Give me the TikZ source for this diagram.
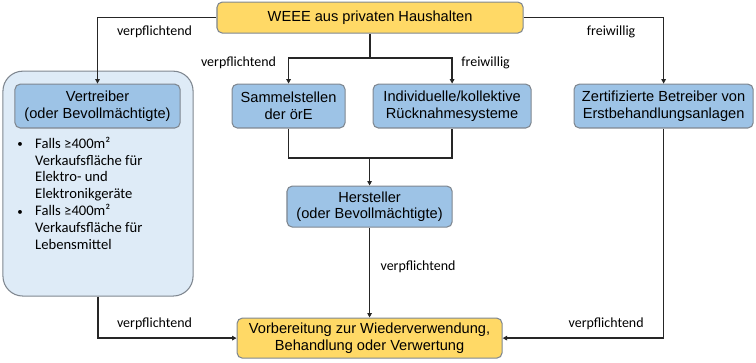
\documentclass[tikz,border=0pt]{standalone}
\usepackage{fontspec}
\setmainfont{Liberation Sans}
\newfontfamily\carlito{Carlito}
\usetikzlibrary{arrows.meta}
\definecolor{weeeyel}{HTML}{FFD966}
\definecolor{actblue}{HTML}{9DC3E6}
\definecolor{panelblue}{HTML}{DEEBF7}
\definecolor{boxedge}{HTML}{7F8790}
\definecolor{linegray}{HTML}{262626}
\newcommand{\bulmark}{\makebox[13.5pt][l]{\raisebox{0.5pt}{\scalebox{0.75}{•}}}}
\newcommand{\bulgap}{\hspace*{13.5pt}}

\begin{document}
\begin{tikzpicture}[
  >={Triangle[length=3.4pt,width=3.4pt]},
  ybox/.style={rounded corners=4pt, draw=boxedge, line width=0.8pt, fill=weeeyel, align=center, inner sep=0pt, font=\fontsize{11}{12.5}\selectfont},
  bbox/.style={rounded corners=4pt, draw=boxedge, line width=0.8pt, fill=actblue, align=center, inner sep=0pt, font=\fontsize{11}{12.5}\selectfont},
  panel/.style={rounded corners=15pt, draw=boxedge, line width=0.8pt, fill=panelblue, inner sep=0pt},
  lbl/.style={font=\carlito\fontsize{10.5}{12}\selectfont, inner sep=0pt},
  bul/.style={font=\carlito\fontsize{11}{12.75}\selectfont, align=left, inner sep=0pt},
  flow/.style={->, line width=1pt, color=linegray},
  flowline/.style={line width=1pt, color=linegray},
]
\useasboundingbox (0,0) rectangle (20.0,9.58);

% boxes
\node[ybox, minimum width=8.10cm, minimum height=0.82cm] (weee) at (9.79,9.115) {WEEE aus privaten Haushalten};
\node[panel, minimum width=5.03cm, minimum height=5.95cm] (vpanel) at (2.593,4.723) {};
\node[bbox, minimum width=4.37cm, minimum height=1.16cm] (vertr) at (2.58,6.774) {Vertreiber\\(oder Bevollmächtigte)};
\node[bbox, minimum width=2.99cm, minimum height=1.16cm] (sammel) at (7.634,6.774) {Sammelstellen\\der örE};
\node[bbox, minimum width=4.18cm, minimum height=1.16cm] (indiv) at (11.96,6.774) {Individuelle/kollektive\\Rücknahmesysteme};
\node[bbox, minimum width=4.74cm, minimum height=1.16cm] (zert) at (17.556,6.774) {Zertifizierte Betreiber von\\Erstbehandlungsanlagen};
\node[bbox, minimum width=4.37cm, minimum height=1.085cm] (herst) at (9.777,4.115) {Hersteller\\(oder Bevollmächtigte)};
\node[ybox, minimum width=7.01cm, minimum height=1.06cm] (vorb) at (9.777,0.635) {Vorbereitung zur Wiederverwendung,\\Behandlung oder Verwertung};

\node[bul, anchor=north west] (crit) at (0.45,5.967) {\bulmark Falls ≥400m²\\\bulgap Verkaufsfläche für\\\bulgap Elektro- und\\\bulgap Elektronikgeräte\\\bulmark Falls ≥400m²\\\bulgap Verkaufsfläche für\\\bulgap Lebensmittel};

% connectors
\draw[flow] (weee.west) -| (vertr.north);
\coordinate (split) at (9.79,8.044);
\draw[flowline] (weee.south) -- (split);
\draw[flow] (split) -| (sammel.north);
\draw[flow] (split) -| (indiv.north);
\draw[flow] (weee.east) -| (zert.north);
\coordinate (merge) at (9.777,5.398);
\draw[flowline] (sammel.south) |- (merge) -| (indiv.south);
\draw[flow] (merge) -- (herst.north);
\draw[flow] (herst.south) -- (vorb.north);
\draw[flow] (vpanel.south) |- (vorb.west);
\draw[flow] (zert.south) |- (vorb.east);

% labels
\node[lbl] (lvertr) at (4.088,8.732) {verpflichtend};
\node[lbl] (lsammel) at (6.311,7.912) {verpflichtend};
\node[lbl] (lindiv) at (12.846,7.912) {freiwillig};
\node[lbl] (lzert) at (16.167,8.732) {freiwillig};
\node[lbl] (lherst) at (11.06,2.514) {verpflichtend};
\node[lbl] (lpanel) at (4.088,1.005) {verpflichtend};
\node[lbl] (lright) at (16.035,1.005) {verpflichtend};

\end{tikzpicture}
\end{document}
